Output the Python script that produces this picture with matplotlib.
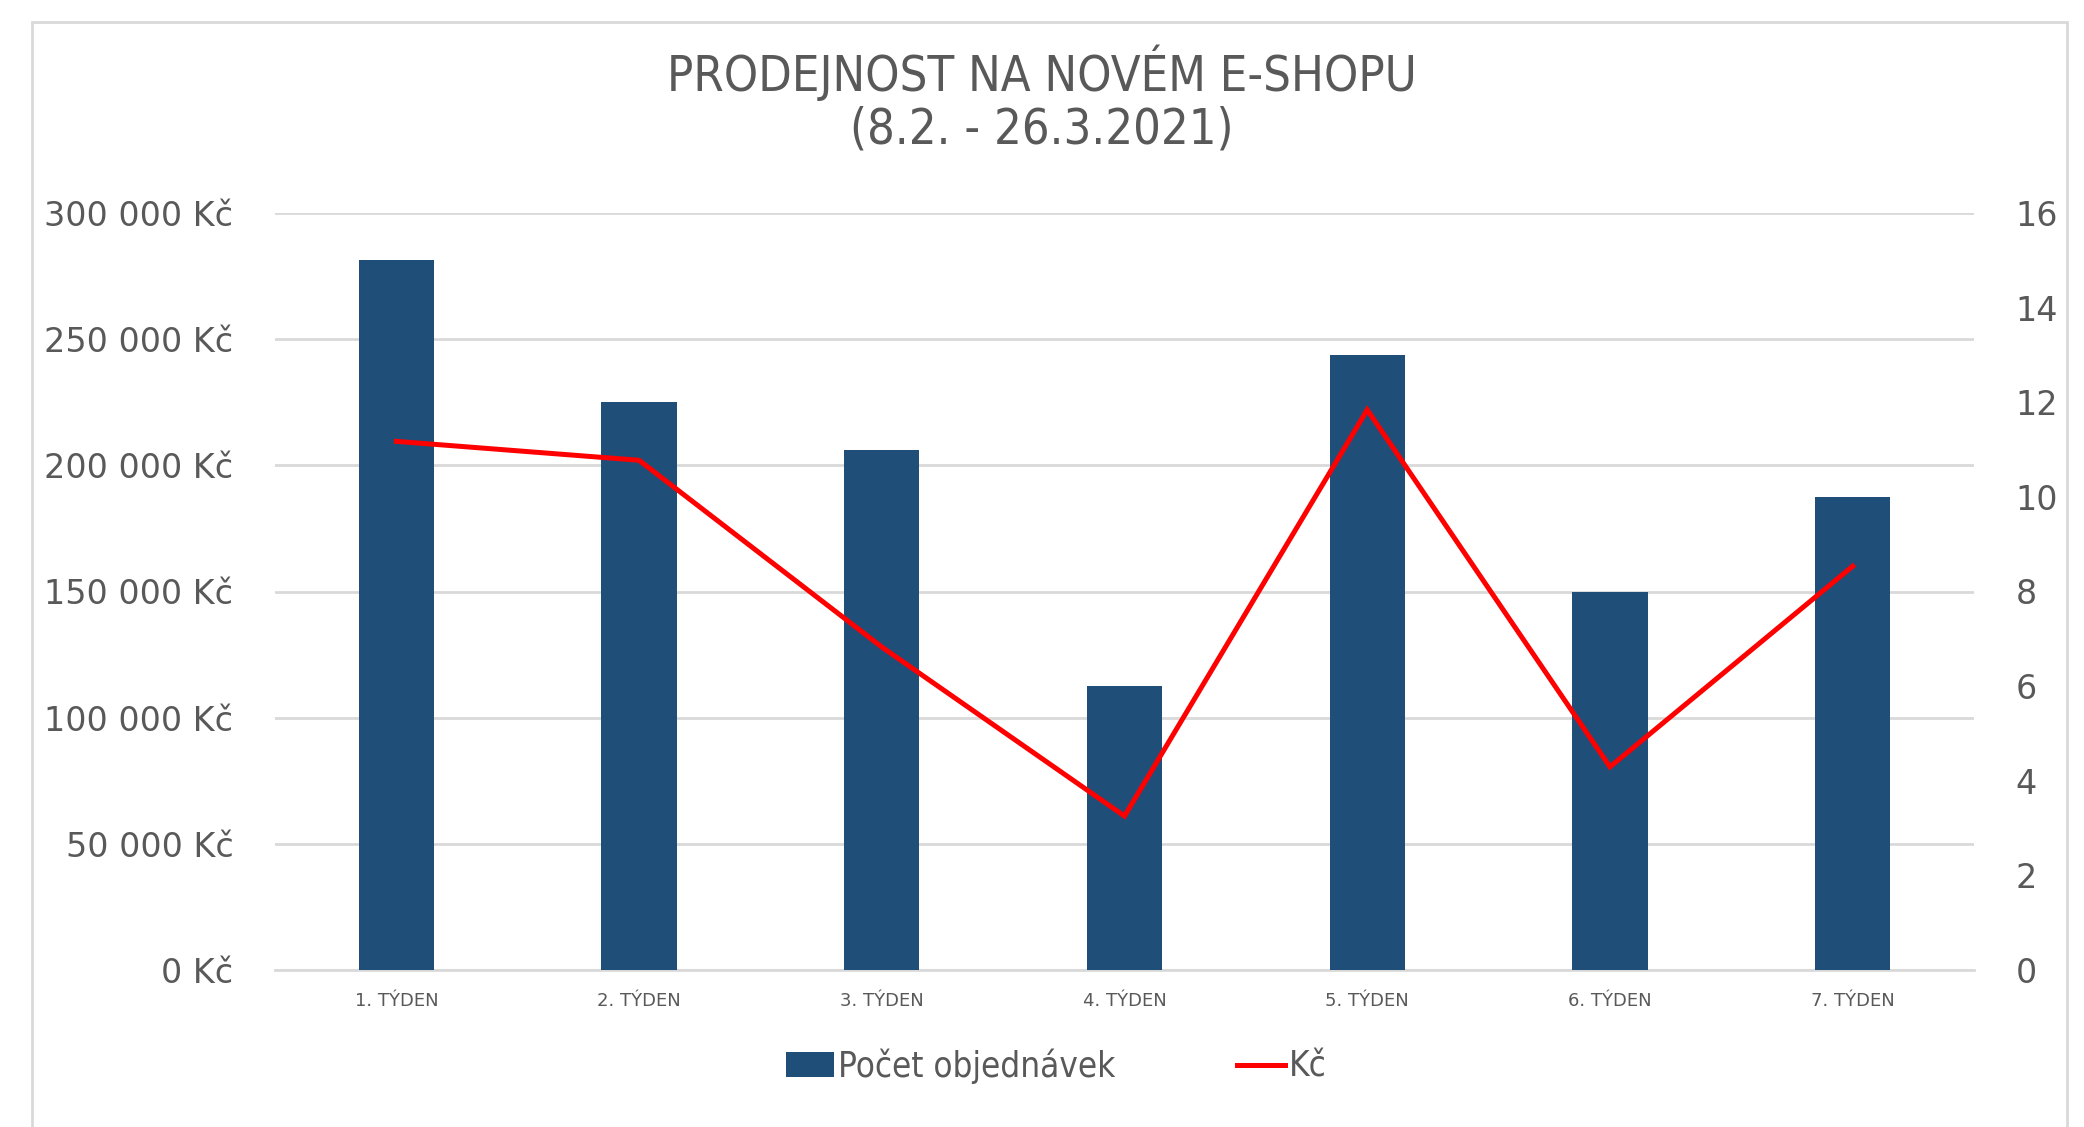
import matplotlib.pyplot as plt
import numpy as np
from matplotlib.patches import Rectangle
from matplotlib.ticker import FuncFormatter

weeks = ["1. TÝDEN", "2. TÝDEN", "3. TÝDEN", "4. TÝDEN", "5. TÝDEN", "6. TÝDEN", "7. TÝDEN"]
orders = [15, 12, 11, 6, 13, 8, 10]
revenue = [209500, 202000, 128000, 61000, 222000, 80500, 160000]

GREY = "#595959"
GRID = "#D9D9D9"
BAR = "#1F4E79"

fig = plt.figure(figsize=(20.84, 11.27), dpi=100)
fig.patch.set_facecolor("white")

# chart area frame (cut off at bottom like the screenshot)
fig.patches.append(Rectangle((32 / 2084, -0.05), (2067 - 32) / 2084, 1.05 - 22 / 1127,
                             transform=fig.transFigure, fill=False,
                             edgecolor=GRID, lw=2))

left, right = 275 / 2084, 1974 / 2084
bottom, top = 1 - 970 / 1127, 1 - 213 / 1127

# bars (orders) sit underneath, on the right axis
ax2 = fig.add_axes([left, bottom, right - left, top - bottom])
ax = ax2.twinx()
ax.set_zorder(2)
ax2.set_zorder(1)
ax.patch.set_visible(False)

x = np.arange(len(weeks))
ax2.bar(x, orders, width=0.31, color=BAR, label="Počet objednávek", zorder=3)
ax2.set_ylim(0, 16)
ax2.set_yticks(np.arange(0, 17, 2))
# gridlines follow the left (Kč) axis ticks, drawn behind the bars
ax2.yaxis.remove_overlapping_locs = False
ax2.set_yticks(np.linspace(0, 16, 7), minor=True)
ax2.grid(which="minor", axis="y", color=GRID, lw=2)
ax2.set_axisbelow(True)
ax2.yaxis.tick_right()
ax2.yaxis.set_label_position("right")
ax2.tick_params(axis="y", which="both", length=0, labelsize=24, labelcolor=GREY, pad=30)
for t in ax2.get_yticklabels():
    t.set_horizontalalignment("left")

ax2.set_xlim(-0.5, len(weeks) - 0.5)
ax2.set_xticks(x)
ax2.set_xticklabels(weeks)
ax2.tick_params(axis="x", length=0, labelsize=13, labelcolor=GREY, pad=16)

for s in ["top", "left", "right"]:
    ax2.spines[s].set_visible(False)
ax2.spines["bottom"].set_color(GRID)
ax2.spines["bottom"].set_linewidth(2)

# line (Kč) on the left axis
ax.plot(x, revenue, color="#FF0000", lw=3.6, label="Kč", solid_joinstyle="miter")
ax.set_ylim(0, 300000)
ax.set_yticks(np.arange(0, 300001, 50000))
ax.yaxis.tick_left()
ax.yaxis.set_major_formatter(FuncFormatter(lambda v, p: f"{int(v):,} Kč".replace(",", " ")))
ax.tick_params(axis="y", length=0, labelsize=24, labelcolor=GREY, pad=30)
for s in ax.spines.values():
    s.set_visible(False)

fig.text(0.5, 1 - 73 / 1127, "PRODEJNOST NA NOVÉM E-SHOPU", ha="center", va="center",
         fontsize=35, color=GREY, fontstretch="condensed")
fig.text(0.5, 1 - 130 / 1127, "(8.2. - 26.3.2021)", ha="center", va="center",
         fontsize=35, color=GREY, fontstretch="condensed")

h1, l1 = ax2.get_legend_handles_labels()
h2, l2 = ax.get_legend_handles_labels()
leg = fig.legend(h1 + h2, l1 + l2, loc="center", bbox_to_anchor=(1056 / 2084, 1 - 1066 / 1127),
                 ncol=2, frameon=False, prop={"size": 25, "stretch": "condensed"},
                 handlelength=1.4, handletextpad=0.1, columnspacing=3.5)
for t in leg.get_texts():
    t.set_color(GREY)

fig.savefig("out.png", dpi=100)
